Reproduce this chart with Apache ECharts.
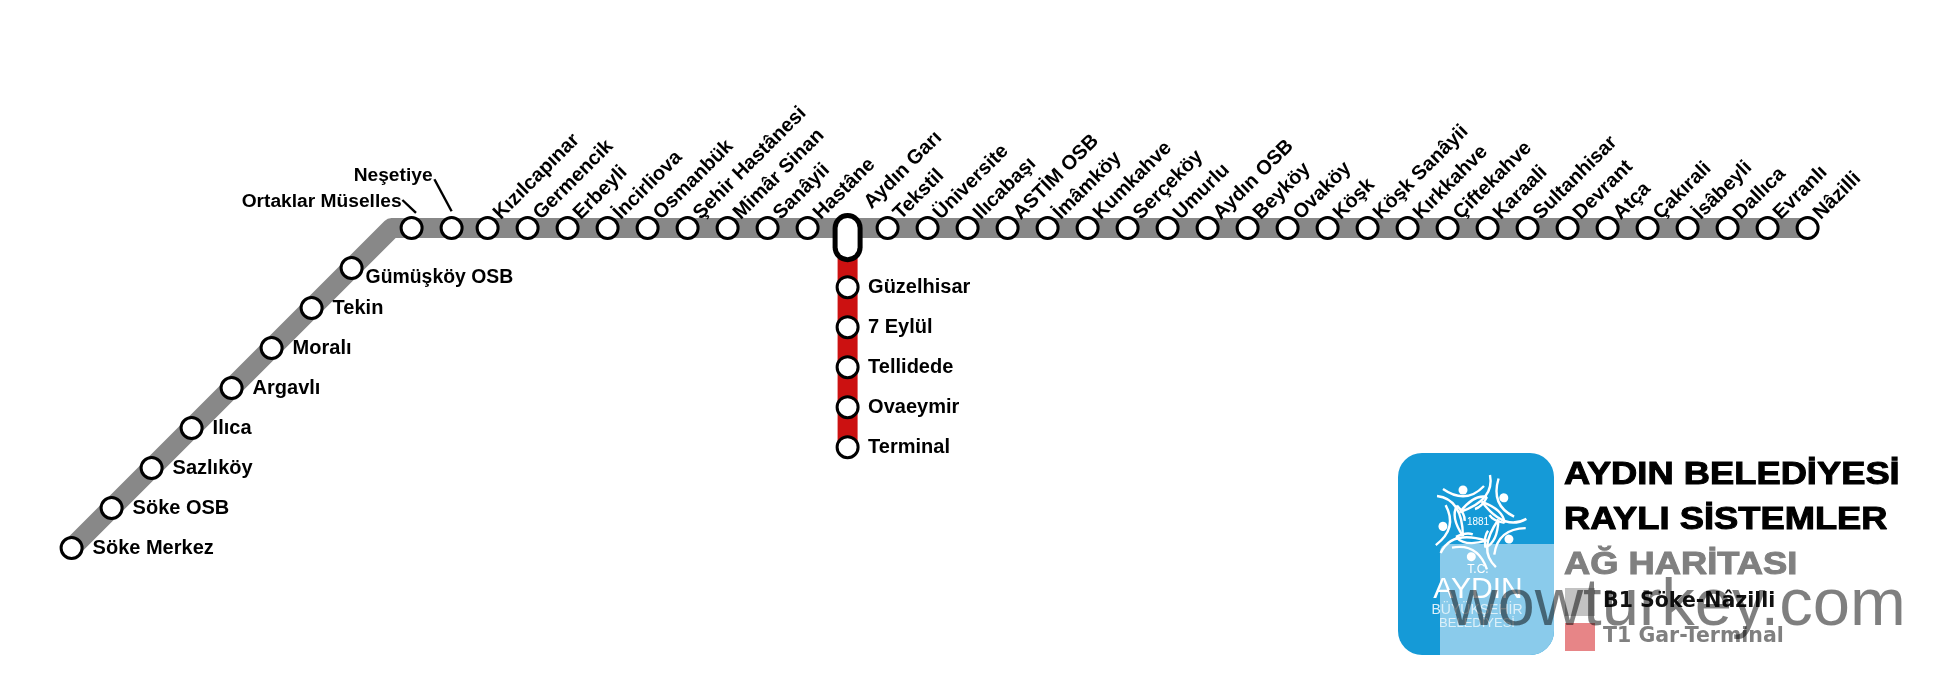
<!DOCTYPE html>
<html>
<head>
<meta charset="utf-8">
<title>Aydin rayli sistemler</title>
<script src="https://cdn.jsdelivr.net/npm/echarts@6/dist/echarts.min.js"></script>
<style>
html, body { margin: 0; padding: 0; background: #fff; }
#chart { width: 1936px; height: 696px; }
</style>
</head>
<body>
<div id="chart"></div>
<script>
// schematic grid: one unit is one station step on the original map
const diagonalNames = ['Söke Merkez', 'Söke OSB', 'Sazlıköy', 'Ilıca', 'Argavlı', 'Moralı', 'Tekin'];
const diagonalX = [0, 1, 2, 3, 4, 5, 6];
const diagonalY = [0, 1, 2, 3, 4, 5, 6];

const gumuskoy = { name: 'Gümüşköy OSB', x: 7, y: 7 };

const calloutNames = ['Ortaklar Müselles', 'Neşetiye'];
const calloutX = [8.5, 9.5];
const calloutY = [8, 8];

const topNames = ['Kızılcapınar', 'Germencik', 'Erbeyli', 'İncirliova', 'Osmanbük', 'Şehir Hastânesi', 'Mimâr Sinan', 'Sanâyii', 'Hastâne',
    'Tekstil', 'Üniversite', 'Ilıcabaşı', 'ASTİM OSB', 'İmâmköy', 'Kumkahve', 'Serçeköy', 'Umurlu', 'Aydın OSB', 'Beyköy', 'Ovaköy', 'Köşk',
    'Köşk Sanâyii', 'Kırkkahve', 'Çiftekahve', 'Karaali', 'Sultanhisar', 'Devrant', 'Atça', 'Çakırali', 'İsâbeyli', 'Dallıca', 'Evranlı', 'Nâzilli'];
const topX = [10.4, 11.4, 12.4, 13.4, 14.4, 15.4, 16.4, 17.4, 18.4,
    20.4, 21.4, 22.4, 23.4, 24.4, 25.4, 26.4, 27.4, 28.4, 29.4, 30.4, 31.4,
    32.4, 33.4, 34.4, 35.4, 36.4, 37.4, 38.4, 39.4, 40.4, 41.4, 42.4, 43.4];
const topRowY = 8;

const hubName = 'Aydın Garı';
const hubX = 19.4;
const hubPill = [8, 7.52];

const branchNames = ['Güzelhisar', '7 Eylül', 'Tellidede', 'Ovaeymir', 'Terminal'];
const branchY = [6.52, 5.52, 4.52, 3.52, 2.52];

const b1Route = [[0, 0], [8, 8], [43.4, 8]];
const t1Route = [[19.4, 8], [19.4, 2.52]];
const ortaklarLeader = [[8.27, 8.7], [8.61, 8.38]];
const nesetiyeLeader = [[9.07, 9.22], [9.5, 8.42]];

const lineNames = ['B1 Söke-Nâzilli', 'T1 Gar-Terminal'];
const titleLines = ['AYDIN BELEDİYESİ', 'RAYLI SİSTEMLER', 'AĞ HARİTASI'];
const logoLines = ['T.C.', 'AYDIN', 'BÜYÜKŞEHİR', 'BELEDİYESİ', '1881'];
const watermark = 'wowturkey.com';

const FONT = '"Liberation Sans", Arial, sans-serif';
const zip = (xs, ys) => xs.map((x, i) => [x, ys[i]]);

function lineSeries(name, data, color, width, cap, z) {
    return {
        type: 'line', name, data, showSymbol: false, silent: true, animation: false, z: z || 1,
        lineStyle: { color, width, cap: cap || 'butt', join: 'round' }
    };
}

function stationSeries(names, points, label, size) {
    return {
        type: 'scatter', silent: true, animation: false, z: 3,
        data: names.map((n, i) => ({ name: n, value: points[i] })),
        symbol: 'circle',
        symbolSize: size == null ? 21 : size,
        itemStyle: { color: '#fff', borderColor: '#000', borderWidth: 3, opacity: 1 },
        label: Object.assign({
            show: true, formatter: '{b}', position: 'inside', color: '#000',
            fontFamily: FONT, fontWeight: 'bold', fontSize: 20, verticalAlign: 'middle', align: 'left'
        }, label)
    };
}

// emblem: five swooshes and heads turned round the centre
function emblem(cx, cy) {
    const curve = (x1, y1, cpx1, cpy1, x2, y2) => ({
        type: 'bezierCurve',
        shape: { x1, y1, cpx1, cpy1, x2, y2 },
        style: { fill: null, stroke: '#fff', lineWidth: 2.4 }
    });
    const arms = [];
    for (let i = 0; i < 5; i++) {
        arms.push({
            type: 'group', rotation: i * Math.PI * 2 / 5,
            children: [
                curve(-35, -33, -12, -17, 6, -36),
                curve(12, -47, 17, -22, -18, -10),
                curve(-18, -10, -4, -28, 9, -25),
                curve(-3, -13, 4, -15, 9, -25),
                { type: 'circle', shape: { cx: -15, cy: -32, r: 4.5 }, style: { fill: '#fff' } }
            ]
        });
    }
    return { type: 'group', x: cx, y: cy, children: arms };
}

function txt(text, x, y, size, fill, extra) {
    return {
        type: 'text', x, y, z: 5,
        style: Object.assign({
            text, fill, font: 'bold ' + size + 'px ' + FONT,
            textAlign: 'left', textVerticalAlign: 'middle', verticalAlign: 'middle'
        }, extra)
    };
}

function titleText(text, y, color) {
    const el = txt(text, 1564, y, 32, color, { stroke: color, lineWidth: 1 });
    el.scaleX = 1.135;
    return el;
}

const chart = echarts.init(document.getElementById('chart'));

chart.setOption({
    animation: false,
    backgroundColor: '#fff',
    grid: { left: 0, right: 0, top: 0, bottom: 0 },
    xAxis: { type: 'value', min: -1.79, max: 46.61, show: false },
    yAxis: { type: 'value', min: -3.7, max: 13.7, show: false },
    legend: {
        orient: 'vertical', left: 1565, top: 588, padding: 0, itemWidth: 30, itemHeight: 28, itemGap: 7,
        selectedMode: false, z: 4,
        data: [
            { name: lineNames[0], icon: 'rect', itemStyle: { color: '#C2C2C2' }, textStyle: { color: '#111' } },
            { name: lineNames[1], icon: 'rect', itemStyle: { color: '#E78587' }, textStyle: { color: '#808080' } }
        ],
        textStyle: { fontFamily: '"DejaVu Sans", sans-serif', fontWeight: 'bold', fontSize: 20.5, padding: [0, 0, 0, 3] }
    },
    series: [
        lineSeries(lineNames[0], b1Route, '#888888', 20),
        lineSeries(lineNames[1], t1Route, '#CC1111', 20),
        lineSeries('leader1', ortaklarLeader, '#000', 2.4),
        lineSeries('leader2', nesetiyeLeader, '#000', 2.4),
        lineSeries('hub-outer', [[hubX, hubPill[0]], [hubX, hubPill[1]]], '#000', 30, 'round', 2),
        lineSeries('hub-inner', [[hubX, hubPill[0]], [hubX, hubPill[1]]], '#fff', 20, 'round', 2),
        stationSeries(diagonalNames, zip(diagonalX, diagonalY), { offset: [21, 0] }),
        stationSeries([gumuskoy.name], [[gumuskoy.x, gumuskoy.y]], { offset: [14, 10], fontSize: 19.4 }),
        stationSeries(calloutNames.slice(0, 1), [[calloutX[0], calloutY[0]]], { align: 'right', offset: [-10, -26], fontSize: 19.2 }),
        stationSeries(calloutNames.slice(1), [[calloutX[1], calloutY[1]]], { align: 'right', offset: [-19, -52], fontSize: 19.2 }),
        stationSeries(topNames, topX.map(x => [x, topRowY]), { rotate: 45, offset: [14.8, -1.6] }),
        stationSeries([hubName], [[hubX, topRowY]], { rotate: 45, offset: [30, -1.6] }, 0),
        stationSeries(branchNames, branchY.map(y => [hubX, y]), { offset: [20.5, 0] })
    ],
    graphic: [
        { type: 'rect', x: 1398, y: 453, shape: { width: 156, height: 202, r: 24 }, style: { fill: '#159AD7' } },
        { type: 'rect', x: 1440, y: 544, shape: { width: 114, height: 111, r: [8, 0, 24, 0] }, style: { fill: '#8ACBEB' } },
        emblem(1478, 522),
        txt(logoLines[4], 1478, 522, 10, '#fff', { textAlign: 'center', font: '10px ' + FONT }),
        txt(logoLines[0], 1478, 570, 12, '#fff', { textAlign: 'center', font: '12px ' + FONT }),
        txt(logoLines[1], 1478, 590, 30, '#fff', { textAlign: 'center', font: '30px ' + FONT }),
        txt(logoLines[2], 1477, 610, 14, '#DDF0F9', { textAlign: 'center', font: '14px ' + FONT }),
        txt(logoLines[3], 1477, 623, 12, '#DDF0F9', { textAlign: 'center', font: '13px ' + FONT }),
        titleText(titleLines[0], 475, '#000'),
        titleText(titleLines[1], 520, '#000'),
        titleText(titleLines[2], 565, '#808080'),
        {
            type: 'text', x: 1449, y: 607, z: 100,
            style: { text: watermark, fill: 'rgba(0,0,0,0.5)', font: '67px ' + FONT, textAlign: 'left', verticalAlign: 'middle', textVerticalAlign: 'middle' }
        }
    ]
});
</script>
</body>
</html>
